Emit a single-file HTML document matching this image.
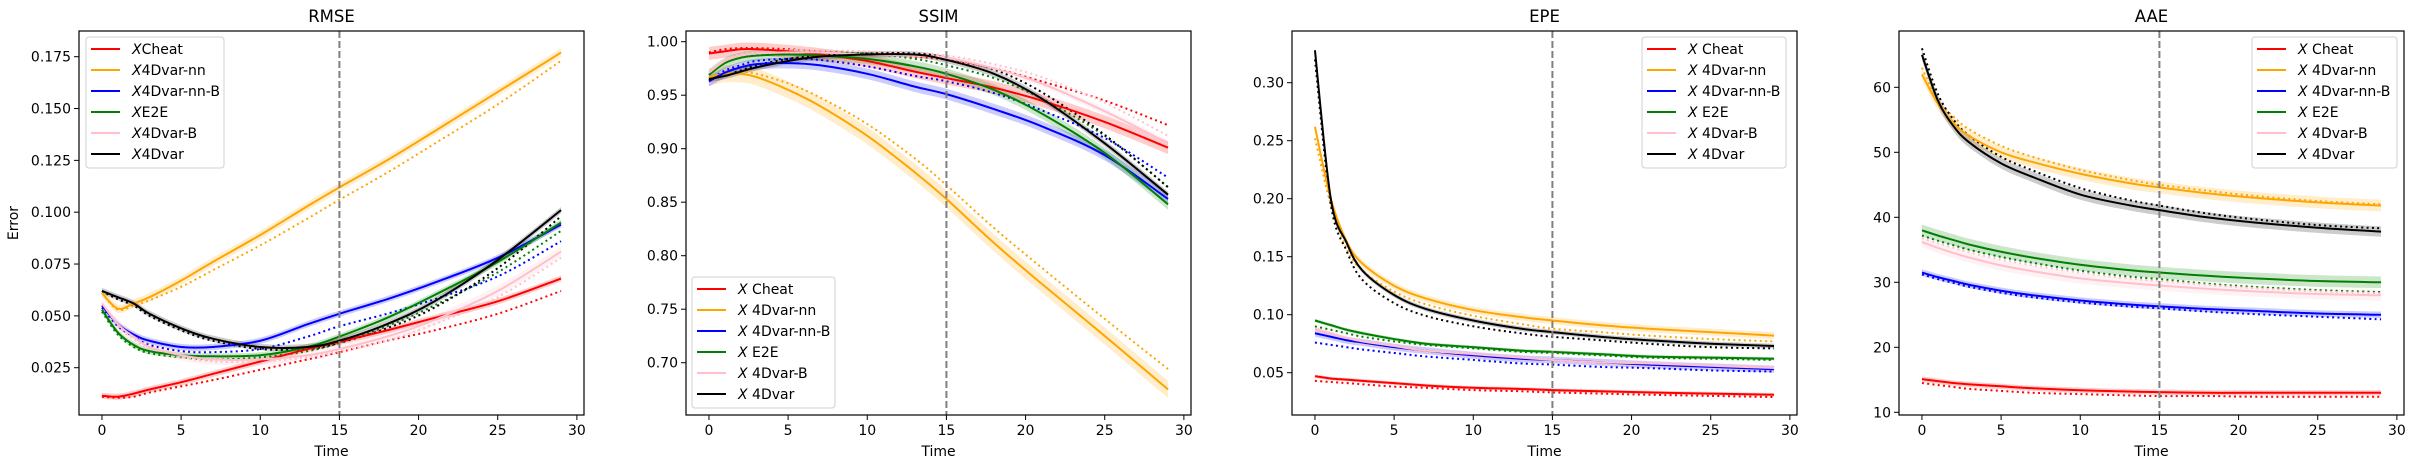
<!DOCTYPE html>
<html><head><meta charset="utf-8">
<style>
html,body{margin:0;padding:0;background:#fff;}
svg{display:block;font-family:"DejaVu Sans","Liberation Sans",sans-serif;}
</style></head>
<body>
<svg id="fig" width="2415" height="468" viewBox="0 0 2415 468" xmlns="http://www.w3.org/2000/svg"></svg>
<script>
// ---- shared data ----
const times = [0,1,2,3,5,7,10,13,15,18,21,25,29];
const seriesNames = ["Cheat","4Dvar-nn","4Dvar-nn-B","E2E","4Dvar-B","4Dvar"];
const xTicks = [0,5,10,15,20,25,30];
const splitTime = 15;

// RMSE
const rmseSolid = [
 [0.0115,0.011,0.0125,0.0145,0.018,0.022,0.028,0.034,0.0375,0.043,0.049,0.057,0.068],
 [0.061,0.0535,0.056,0.059,0.067,0.076,0.089,0.103,0.112,0.125,0.139,0.158,0.177],
 [0.055,0.046,0.041,0.038,0.035,0.035,0.038,0.046,0.051,0.058,0.066,0.078,0.094],
 [0.053,0.042,0.036,0.033,0.031,0.0305,0.031,0.035,0.040,0.049,0.060,0.076,0.095],
 [0.056,0.046,0.040,0.035,0.031,0.029,0.029,0.031,0.034,0.040,0.048,0.062,0.081],
 [0.062,0.059,0.056,0.051,0.044,0.039,0.035,0.035,0.038,0.046,0.057,0.077,0.101]];
const rmseDotted = [
 [0.011,0.0105,0.011,0.013,0.016,0.019,0.024,0.029,0.0325,0.038,0.043,0.051,0.062],
 [0.061,0.053,0.055,0.0575,0.064,0.072,0.084,0.097,0.106,0.119,0.133,0.152,0.173],
 [0.054,0.045,0.040,0.036,0.033,0.0325,0.034,0.040,0.045,0.051,0.058,0.069,0.086],
 [0.052,0.041,0.035,0.032,0.030,0.029,0.030,0.033,0.037,0.045,0.055,0.071,0.091],
 [0.055,0.045,0.039,0.034,0.030,0.028,0.028,0.030,0.033,0.038,0.046,0.059,0.078],
 [0.062,0.058,0.055,0.050,0.043,0.038,0.034,0.034,0.037,0.044,0.054,0.073,0.098]];
const rmseBand = [0.0015,0.002,0.0015,0.0015,0.0025,0.0015];
const rmseTicks = [0.025,0.050,0.075,0.100,0.125,0.150,0.175];

// SSIM
const ssimSolid = [
 [0.989,0.991,0.993,0.993,0.991,0.988,0.982,0.972,0.966,0.957,0.945,0.925,0.901],
 [0.967,0.970,0.970,0.967,0.955,0.940,0.912,0.878,0.853,0.812,0.774,0.725,0.675],
 [0.963,0.971,0.976,0.979,0.980,0.978,0.970,0.958,0.951,0.937,0.921,0.894,0.853],
 [0.969,0.980,0.985,0.987,0.988,0.987,0.984,0.977,0.970,0.955,0.933,0.896,0.848],
 [0.971,0.982,0.987,0.989,0.990,0.990,0.988,0.987,0.985,0.975,0.961,0.935,0.905],
 [0.965,0.968,0.972,0.976,0.982,0.986,0.988,0.988,0.983,0.970,0.947,0.905,0.857]];
const ssimDotted = [
 [0.990,0.993,0.994,0.994,0.993,0.991,0.989,0.986,0.983,0.975,0.963,0.945,0.922],
 [0.967,0.970,0.972,0.970,0.961,0.948,0.923,0.891,0.866,0.826,0.789,0.741,0.694],
 [0.964,0.973,0.978,0.982,0.984,0.983,0.977,0.968,0.963,0.952,0.936,0.910,0.873],
 [0.969,0.981,0.986,0.988,0.990,0.990,0.989,0.984,0.978,0.966,0.947,0.912,0.864],
 [0.972,0.983,0.988,0.990,0.992,0.992,0.991,0.989,0.987,0.979,0.967,0.943,0.912],
 [0.966,0.969,0.973,0.978,0.984,0.987,0.989,0.989,0.985,0.974,0.953,0.913,0.864]];
const ssimBand = [0.006,0.008,0.005,0.005,0.003,0.003];
const ssimTicks = [0.70,0.75,0.80,0.85,0.90,0.95,1.00];

// EPE
const epeSolid = [
 [0.047,0.045,0.044,0.043,0.041,0.039,0.037,0.036,0.035,0.034,0.033,0.032,0.031],
 [0.262,0.200,0.163,0.144,0.125,0.114,0.104,0.098,0.095,0.091,0.088,0.085,0.082],
 [0.084,0.081,0.078,0.076,0.072,0.069,0.065,0.062,0.061,0.059,0.057,0.055,0.053],
 [0.095,0.091,0.087,0.084,0.079,0.075,0.072,0.069,0.068,0.066,0.064,0.063,0.062],
 [0.088,0.084,0.080,0.077,0.073,0.069,0.066,0.063,0.061,0.059,0.058,0.056,0.054],
 [0.328,0.200,0.162,0.138,0.117,0.105,0.095,0.088,0.085,0.081,0.078,0.075,0.073]];
const epeDotted = [
 [0.043,0.042,0.041,0.040,0.038,0.037,0.035,0.034,0.033,0.032,0.031,0.030,0.029],
 [0.252,0.195,0.157,0.138,0.120,0.109,0.099,0.092,0.088,0.085,0.082,0.079,0.077],
 [0.076,0.074,0.072,0.070,0.067,0.064,0.061,0.058,0.057,0.055,0.054,0.052,0.051],
 [0.090,0.087,0.084,0.081,0.077,0.074,0.071,0.068,0.067,0.065,0.063,0.062,0.061],
 [0.086,0.082,0.078,0.075,0.071,0.068,0.064,0.062,0.060,0.058,0.056,0.055,0.053],
 [0.320,0.195,0.155,0.130,0.110,0.099,0.090,0.084,0.081,0.078,0.075,0.072,0.071]];
const epeBand = [0.0015,0.003,0.003,0.0015,0.002,0.002];
const epeTicks = [0.05,0.10,0.15,0.20,0.25,0.30];

// AAE
const aaeSolid = [
 [15.1,14.8,14.5,14.3,14.0,13.7,13.4,13.2,13.1,13.0,13.0,13.0,13.0],
 [62,57.5,54.5,52.5,50,48.5,46.7,45.3,44.6,43.7,43,42.3,41.8],
 [31.5,30.8,30.2,29.6,28.7,28,27.2,26.6,26.3,25.9,25.6,25.2,25.0],
 [38,37.2,36.5,35.8,34.7,33.8,32.7,31.9,31.5,31,30.6,30.2,30.0],
 [36.2,35.3,34.5,33.8,32.6,31.7,30.6,29.9,29.5,29.0,28.6,28.2,28.0],
 [65,58,54,51.5,48.3,46.2,43.5,41.9,41.1,40.0,39.2,38.4,37.8]];
const aaeDotted = [
 [14.5,14.2,13.9,13.6,13.3,13.0,12.8,12.6,12.5,12.5,12.4,12.4,12.4],
 [63,58,55.5,53.5,51,49.3,47.3,45.8,45,44.1,43.3,42.5,42],
 [31.2,30.5,29.9,29.3,28.4,27.7,26.9,26.3,26.0,25.5,25.1,24.7,24.3],
 [37.2,36.4,35.7,35.0,33.9,33.0,31.8,30.9,30.5,29.8,29.3,28.8,28.5],
 [36.8,36.0,35.3,34.6,33.5,32.6,31.5,30.6,30.2,29.6,29.1,28.6,28.3],
 [66,59,55,52.5,49.3,47.2,44.5,42.7,41.8,40.6,39.7,38.8,38.3]];
const aaeBand = [0.4,0.9,0.5,0.9,0.8,0.8];
const aaeTicks = [10,20,30,40,50,60];

// ---- rendering ----
const colors = ["#ff0000","#ffa500","#0000ff","#008000","#ffc0cb","#000000"];
const NS = "http://www.w3.org/2000/svg";
const svg = document.getElementById("fig");
function mk(tag, attrs, parent){
  const e = document.createElementNS(NS, tag);
  for (const k in attrs) e.setAttribute(k, attrs[k]);
  (parent||svg).appendChild(e);
  return e;
}
// smooth path through points (Catmull-Rom -> cubic Bezier); cont = continue existing path
function smooth(pts, cont){
  let d = (cont ? "L" : "M") + pts[0][0].toFixed(2) + "," + pts[0][1].toFixed(2);
  for (let i = 0; i < pts.length - 1; i++) {
    const p0 = pts[Math.max(0, i - 1)], p1 = pts[i], p2 = pts[i + 1], p3 = pts[Math.min(pts.length - 1, i + 2)];
    const c1x = p1[0] + (p2[0] - p0[0]) / 6, c1y = p1[1] + (p2[1] - p0[1]) / 6;
    const c2x = p2[0] - (p3[0] - p1[0]) / 6, c2y = p2[1] - (p3[1] - p1[1]) / 6;
    d += "C" + c1x.toFixed(2) + "," + c1y.toFixed(2) + " " + c2x.toFixed(2) + "," + c2y.toFixed(2) + " " + p2[0].toFixed(2) + "," + p2[1].toFixed(2);
  }
  return d;
}
const TOP = 31, BOT = 415, W = 505, XMIN = -1.45, XMAX = 30.45;

const panels = [
 {key:"rmse", title:"RMSE", left:79, solid:rmseSolid, dotted:rmseDotted, band:rmseBand, ticks:rmseTicks,
  v0:0.175, p0:56.7, v1:0.025, p1:367.7, fmt:v=>v.toFixed(3), ylabel:"Error",
  legend:{x:86, y:37, w:138}, sep:""},
 {key:"ssim", title:"SSIM", left:686, solid:ssimSolid, dotted:ssimDotted, band:ssimBand, ticks:ssimTicks,
  v0:1.00, p0:41.7, v1:0.70, p1:362.7, fmt:v=>v.toFixed(2),
  legend:{x:692, y:277, w:143}, sep:" "},
 {key:"epe", title:"EPE", left:1292, solid:epeSolid, dotted:epeDotted, band:epeBand, ticks:epeTicks,
  v0:0.30, p0:82.7, v1:0.05, p1:372.7, fmt:v=>v.toFixed(2),
  legend:{x:1642, y:37, w:144}, sep:" "},
 {key:"aae", title:"AAE", left:1899, solid:aaeSolid, dotted:aaeDotted, band:aaeBand, ticks:aaeTicks,
  v0:60, p0:87.3, v1:10, p1:412.3, fmt:v=>String(v),
  legend:{x:2252, y:37, w:145}, sep:" "}
];

panels.forEach(P => {
  const g = mk("g", {});
  
  
  const xs = t => P.left + (t - XMIN) / (XMAX - XMIN) * W;
  const ys = v => P.p0 + (v - P.v0) / (P.v1 - P.v0) * (P.p1 - P.p0);

  const clipId = "clip-" + P.key;
  const cp = mk("clipPath", {id: clipId}, g);
  mk("rect", {x:P.left, y:TOP, width:W, height:BOT-TOP}, cp);
  const plot = mk("g", {"clip-path": "url(#" + clipId + ")"}, g);
  
  

  // bands
  P.solid.forEach((s, i) => {
    const up = times.map((t, j) => [xs(t), ys(s[j] + P.band[i])]);
    const lo = times.map((t, j) => [xs(t), ys(s[j] - P.band[i])]).reverse();
    const d = smooth(up, false) + smooth(lo, true) + "Z";
    const b = mk("path", {d: d, fill: colors[i], "fill-opacity": 0.2, stroke: "none"}, plot);
    
    
  });
  // dotted
  P.dotted.forEach((s, i) => {
    const pts = times.map((t, j) => [xs(t), ys(s[j])]);
    const l = mk("path", {d: smooth(pts, false), fill: "none", stroke: colors[i], "stroke-width": 2, "stroke-dasharray": "2,3.3"}, plot);
    
    
  });
  // solid
  P.solid.forEach((s, i) => {
    const pts = times.map((t, j) => [xs(t), ys(s[j])]);
    const l = mk("path", {d: smooth(pts, false), fill: "none", stroke: colors[i], "stroke-width": 2, "stroke-linejoin": "round"}, plot);
    
    
  });
  // vertical dashed line
  const vl = mk("line", {x1: xs(splitTime), x2: xs(splitTime), y1: TOP, y2: BOT, stroke: "#808080", "stroke-width": 2, "stroke-dasharray": "7,3"}, g);
  
  

  // frame
  const fr = mk("rect", {x: P.left, y: TOP, width: W, height: BOT - TOP, fill: "none", stroke: "#000", "stroke-width": 1.2}, g);
  
  

  // x ticks
  xTicks.forEach(t => {
    const x = xs(t);
    mk("line", {x1: x, x2: x, y1: BOT, y2: BOT + 5, stroke: "#000", "stroke-width": 1}, g);
    const tx = mk("text", {x: x, y: BOT + 20, "font-size": 14, "text-anchor": "middle", fill: "#000"}, g);
    tx.textContent = t;
    
    
  });
  // y ticks
  P.ticks.forEach(v => {
    const y = ys(v);
    mk("line", {x1: P.left - 5, x2: P.left, y1: y, y2: y, stroke: "#000", "stroke-width": 1}, g);
    const ty = mk("text", {x: P.left - 8, y: y + 5, "font-size": 14, "text-anchor": "end", fill: "#000"}, g);
    ty.textContent = P.fmt(v);
    
    
  });
  // title
  const ti = mk("text", {x: P.left + W / 2, y: 22, "font-size": 16.5, "text-anchor": "middle", fill: "#000"}, g);
  ti.textContent = P.title;
  
  
  const xl = mk("text", {x: P.left + W / 2, y: 456, "font-size": 14, "text-anchor": "middle", fill: "#000"}, g);
  xl.textContent = "Time";
  
  
  if (P.ylabel) {
    const yl = mk("text", {x: 0, y: 0, "font-size": 14, "text-anchor": "middle", fill: "#000", transform: "translate(18,223) rotate(-90)"}, g);
    yl.textContent = P.ylabel;
    
    
  }
  // legend
  const L = P.legend;
  const lg = mk("g", {}, g);
  
  
  mk("rect", {x: L.x, y: L.y, width: L.w, height: 131, rx: 3, fill: "#fff", "fill-opacity": 0.8, stroke: "#d0d0d0", "stroke-width": 1}, lg);
  seriesNames.forEach((n, i) => {
    const y = L.y + 12 + i * 21;
    const e = mk("g", {}, lg);
    
    
    mk("line", {x1: L.x + 5, x2: L.x + 34, y1: y, y2: y, stroke: colors[i], "stroke-width": 2}, e);
    const tx = mk("text", {x: L.x + 46, y: y + 5, "font-size": 14, fill: "#000"}, e);
    const it = mk("tspan", {"font-style": "italic"}, tx);
    it.textContent = "X";
    const rest = mk("tspan", {}, tx);
    rest.textContent = (P.sep ? "\u00a0" : "") + n;
  });
});
</script>
</body></html>
